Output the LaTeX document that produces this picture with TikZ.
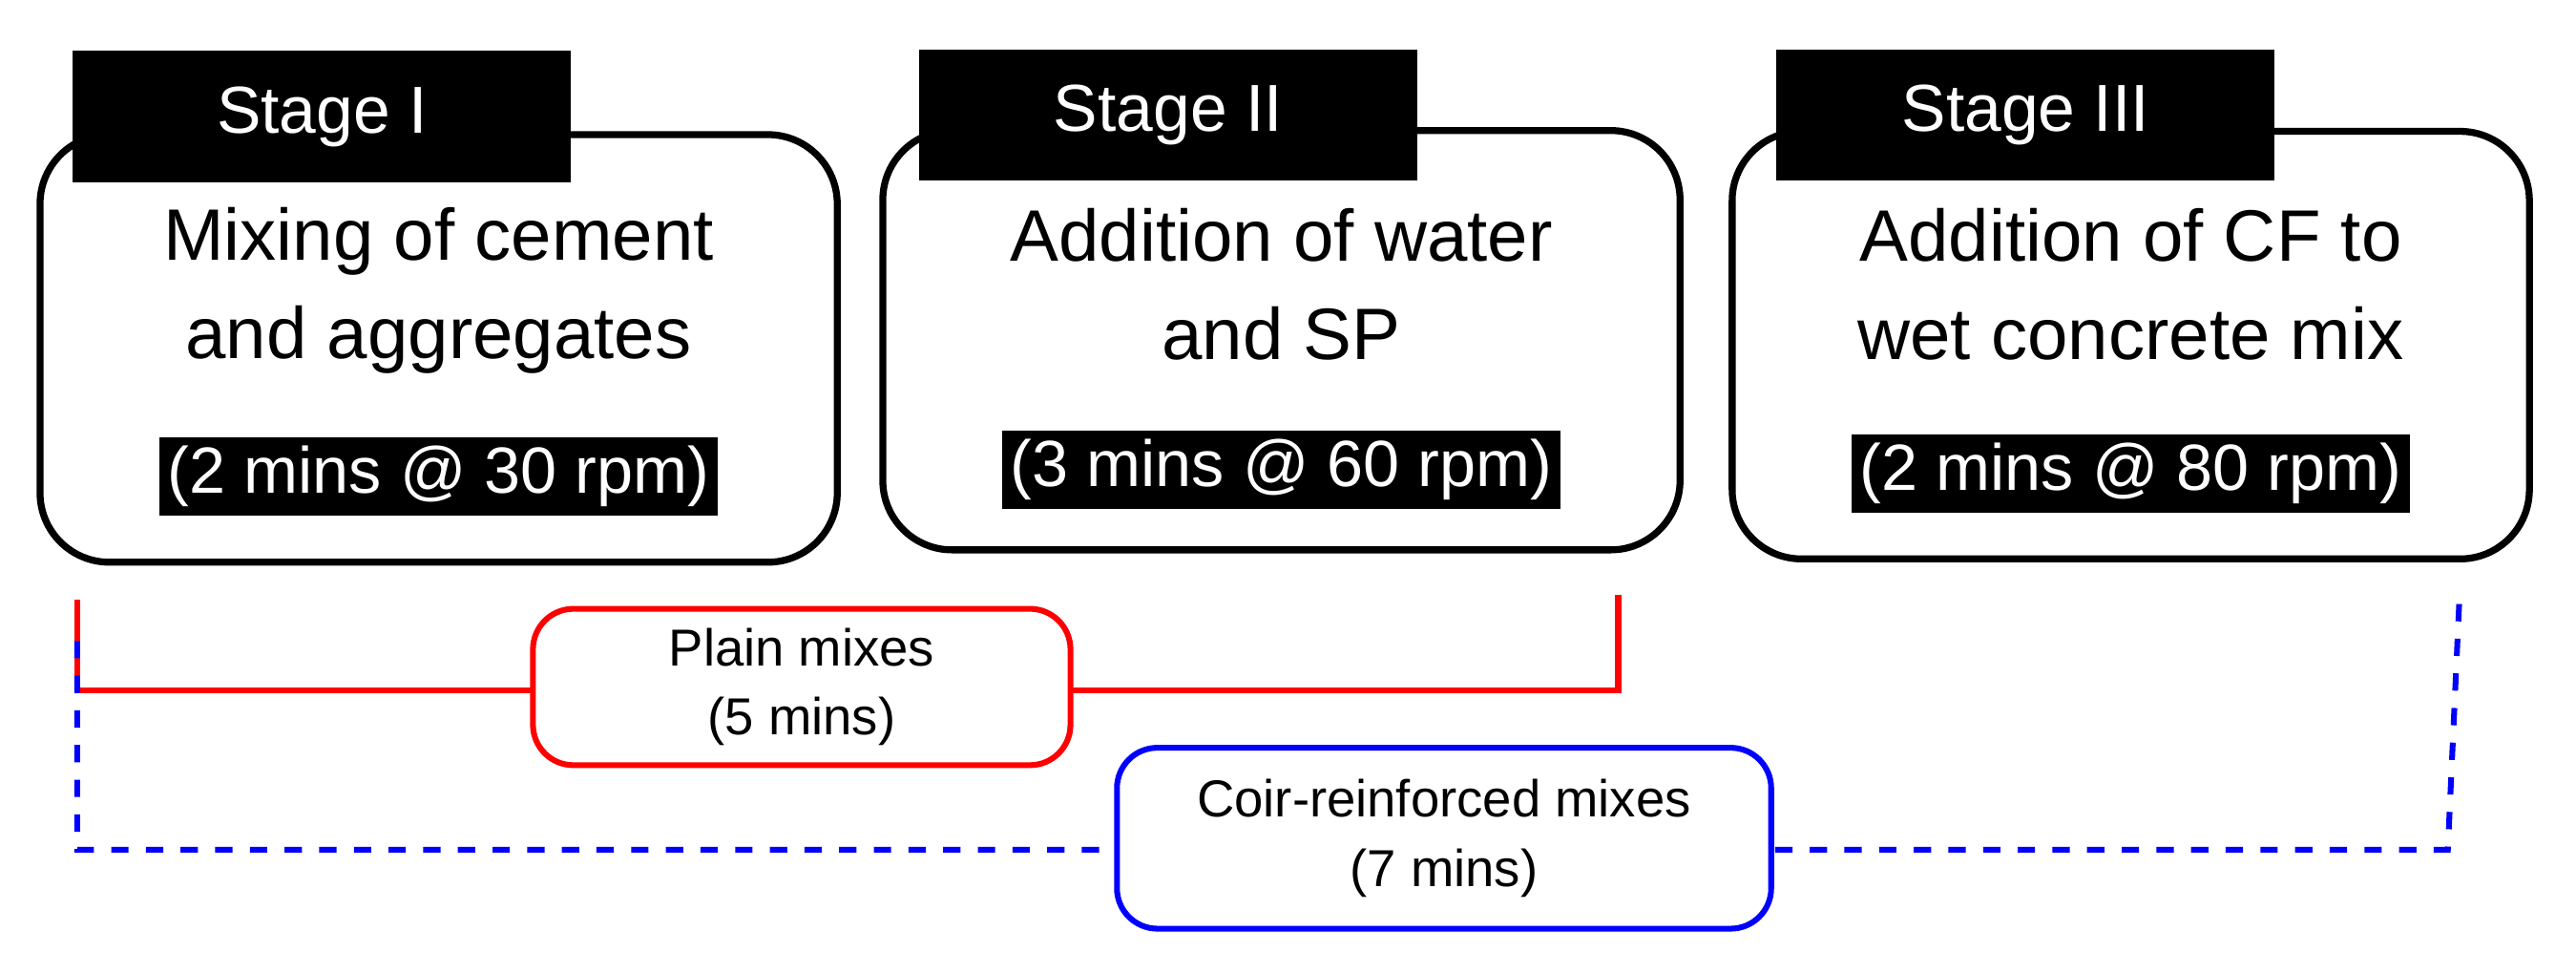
\documentclass[tikz,border=0pt]{standalone}
\usepackage{fontspec}
\setmainfont{Liberation Sans}
\usetikzlibrary{positioning}
\tikzset{
  stagebox/.style={draw=black, line width=1.2pt, rounded corners=12pt, minimum width=4.85cm, minimum height=2.6cm},
  stagetag/.style={fill=black, text=white, minimum width=3.03cm, minimum height=0.8cm, font=\fontsize{11.5}{14}\selectfont},
  maintext/.style={align=center, font=\fontsize{12.6}{17}\selectfont},
  timetag/.style={fill=black, text=white, inner sep=1.5pt, font=\fontsize{11.3}{14}\selectfont},
  sumbox/.style={draw, line width=1pt, rounded corners=7pt, align=center, font=\fontsize{9}{12}\selectfont},
}
\begin{document}
\begin{tikzpicture}[x=0.01cm,y=-0.01cm]
  \useasboundingbox (0,0) rectangle (1568,592);
  % stages
  \node[stagebox] (b1) at (267,212) {};
  \node[stagebox, minimum height=2.55cm] (b2) at (780,207) {};
  \node[stagebox, minimum height=2.6cm] (b3) at (1297,210) {};
  \node[stagetag] (t1) at (196,71) {Stage I};
  \node[stagetag] (t2) at (711,70) {Stage II};
  \node[stagetag] (t3) at (1233,70) {Stage III};
  \node[maintext] (m1) at (267,177) {Mixing of cement\\and aggregates};
  \node[maintext] (m2) at (780,173) {Addition of water\\and SP};
  \node[maintext] (m3) at (1297,173) {Addition of CF to\\wet concrete mix};
  \node[timetag] (p1) at (267,290) {(2 mins @ 30 rpm)};
  \node[timetag] (p2) at (780,286) {(3 mins @ 60 rpm)};
  \node[timetag] (p3) at (1297,288) {(2 mins @ 80 rpm)};
  % totals
  \coordinate (r1) at (47,365);
  \coordinate (r2) at (985,362);
  \coordinate (u1) at (47,390);
  \coordinate (u2) at (1497,365);
  \draw[red, line width=1pt] (r1) -- (47,420) -- (985,420) -- (r2);
  \draw[blue, dashed, line width=1pt] (u1) -- (47,517) -- (1490,517) -- (u2);
  \node[sumbox, draw=red, fill=white, minimum width=3.27cm, minimum height=0.93cm] (plain) at (488,418) {Plain mixes\\(5 mins)};
  \node[sumbox, draw=blue, fill=white, minimum width=3.98cm, minimum height=1.1cm] (coir) at (879,510) {Coir-reinforced mixes\\(7 mins)};
\end{tikzpicture}
\end{document}
